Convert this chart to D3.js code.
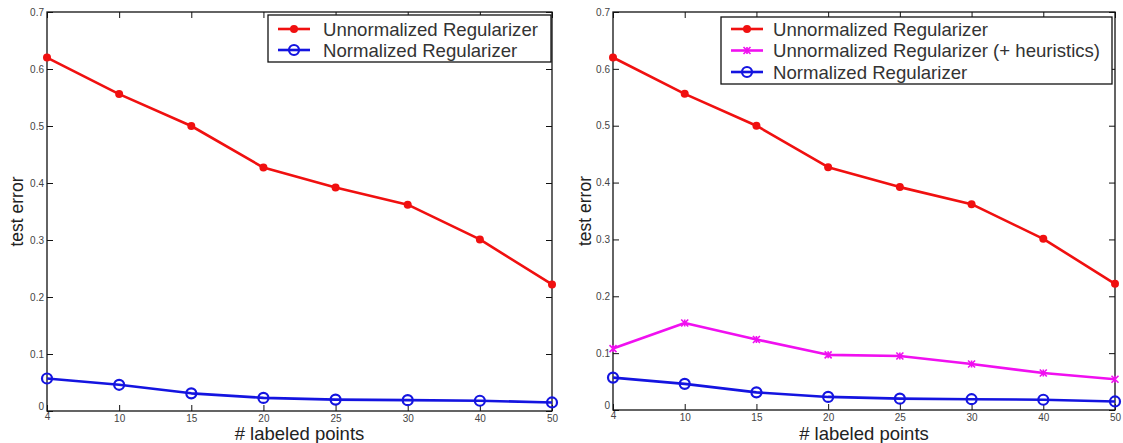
<!DOCTYPE html>
<html><head><meta charset="utf-8">
<script src="https://cdn.jsdelivr.net/npm/d3@7"></script>
<style>body{margin:0;background:#fff}svg{display:block}</style>
</head><body>
<script>
const xLabels = ["4","10","15","20","25","30","40","50"];
const unnormalized = [0.620,0.556,0.500,0.427,0.392,0.362,0.301,0.222];
const normalized = [0.057,0.046,0.031,0.023,0.020,0.019,0.018,0.015];
const heuristics = [0.108,0.153,0.124,0.097,0.095,0.081,0.065,0.054];
const yTicks = [0,0.1,0.2,0.3,0.4,0.5,0.6,0.7];
const yTickLabels = ["0","0.1","0.2","0.3","0.4","0.5","0.6","0.7"];

const W=1123,H=443;
const svg=d3.select("body").append("svg").attr("width",W).attr("height",H);
const FONT="Liberation Sans, Arial, sans-serif";

const RED="#f01010", BLUE="#1414e0", MAG="#f010f0";

function panel(p){
  const g=svg.append("g");
  const x=d3.scalePoint().domain(xLabels).range([p.x0,p.x1]);
  const y=d3.scaleLinear().domain([0,0.7]).range([p.y0,p.y1]);
  g.append("rect").attr("x",p.x0).attr("y",p.y1).attr("width",p.x1-p.x0).attr("height",p.y0-p.y1)
    .attr("fill","none").attr("stroke","#111").attr("stroke-width",1.3);
  const ax=(gen,tr)=>{const a=g.append("g").attr("transform",tr).call(gen);a.select(".domain").remove();return a;};
  const bottom=ax(d3.axisBottom(x).tickSize(-6).tickPadding(4).tickFormat(d=>d),`translate(0,${p.y0})`);
  ax(d3.axisTop(x).tickSize(-6).tickFormat(""),`translate(0,${p.y1})`);
  const left=ax(d3.axisLeft(y).tickValues(yTicks).tickSize(-6).tickPadding(3).tickFormat((d,i)=>yTickLabels[i]),`translate(${p.x0},0)`);
  ax(d3.axisRight(y).tickValues(yTicks).tickSize(-6).tickFormat(""),`translate(${p.x1},0)`);
  g.selectAll(".tick line").attr("stroke","#111").attr("stroke-width",1);
  g.selectAll(".tick text").attr("font-family",FONT).attr("font-size",10).attr("fill","#444");
  left.selectAll(".tick").filter(d=>d===0).select("text").attr("dy","-0.15em");
  bottom.selectAll(".tick").filter(d=>d==="4").select("text").attr("dy","0.5em");
  g.append("text").attr("transform",`translate(${p.ylx},${(p.y0+p.y1)/2}) rotate(-90)`)
    .attr("text-anchor","middle").attr("font-family",FONT).attr("font-size",17.5).attr("fill","#222").attr("dy","0.35em").text("test error");
  g.append("text").attr("x",(p.x0+p.x1)/2).attr("y",440).attr("text-anchor","middle")
    .attr("font-family",FONT).attr("font-size",18.5).attr("fill","#222").text("# labeled points");

  const line=d3.line().x((d,i)=>x(xLabels[i])).y(d=>y(d));
  p.series.forEach(s=>{
    g.append("path").datum(s.values).attr("d",line).attr("fill","none").attr("stroke",s.color).attr("stroke-width",2.6).attr("stroke-linejoin","round");
    drawMarkers(g,s,s.values.map((v,i)=>[x(xLabels[i]),y(v)]));
  });
  const lg=g.append("g");
  lg.append("rect").attr("x",p.lx).attr("y",p.ly).attr("width",p.lw).attr("height",p.lh).attr("fill","#fff").attr("stroke","#111").attr("stroke-width",1.3);
  p.legendOrder.forEach((s,i)=>{
    const cy=p.ly+p.rowTop+i*p.rowH;
    lg.append("line").attr("x1",p.lx+10).attr("x2",p.lx+42).attr("y1",cy).attr("y2",cy).attr("stroke",s.color).attr("stroke-width",2.6);
    drawMarkers(lg,s,[[p.lx+26,cy]]);
    lg.append("text").attr("x",p.lx+p.tx).attr("y",cy).attr("dy","0.36em").attr("font-family",FONT).attr("font-size",18.6).attr("fill","#333").text(s.name);
  });
}

function drawMarkers(g,s,pts){
  pts.forEach(([cx,cy])=>{
    if(s.marker==="dot"){
      g.append("circle").attr("cx",cx).attr("cy",cy).attr("r",4).attr("fill",s.color);
    }else if(s.marker==="o"){
      g.append("circle").attr("cx",cx).attr("cy",cy).attr("r",5).attr("fill","none").attr("stroke",s.color).attr("stroke-width",2.2);
    }else{
      const r=3.5;
      g.append("path").attr("d",`M${cx-r},${cy-r}L${cx+r},${cy+r}M${cx-r},${cy+r}L${cx+r},${cy-r}M${cx},${cy-r}L${cx},${cy+r}`)
        .attr("stroke",s.color).attr("stroke-width",1.6).attr("fill","none");
    }
  });
}

const sU={name:"Unnormalized Regularizer",values:unnormalized,color:RED,marker:"dot"};
const sN={name:"Normalized Regularizer",values:normalized,color:BLUE,marker:"o"};
const sH={name:"Unnormalized Regularizer (+ heuristics)",values:heuristics,color:MAG,marker:"x"};

panel({x0:47,x1:552,y0:411,y1:12,ylx:17,series:[sU,sN],legendOrder:[sU,sN],
  lx:268,ly:15,lw:283,lh:47,rowTop:14,rowH:21,tx:55});
panel({x0:613,x1:1115,y0:410,y1:12,ylx:585,series:[sU,sH,sN],legendOrder:[sU,sH,sN],
  lx:721,ly:17,lw:391,lh:67,rowTop:12,rowH:21.5,tx:52});
</script>
</body></html>
